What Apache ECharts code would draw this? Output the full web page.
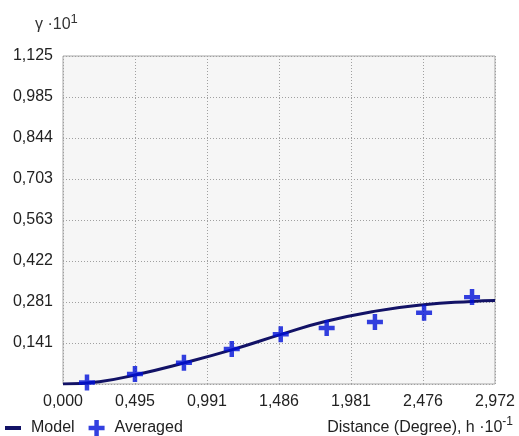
<!DOCTYPE html>
<html><head><meta charset="utf-8">
<script src="https://cdn.jsdelivr.net/npm/echarts@6/dist/echarts.min.js"></script>
<style>html,body{margin:0;padding:0;background:#fff}#c{width:519px;height:436px}</style>
</head><body><div id="c"></div>
<script>
const xTickLabels = ['0,000','0,495','0,991','1,486','1,981','2,476','2,972'];
const yTickLabels = ['','0,141','0,281','0,422','0,563','0,703','0,844','0,985','1,125'];
const averagedX = [0.165, 0.495, 0.832, 1.161, 1.498, 1.814, 2.146, 2.484, 2.814];
const averagedY = [0.005, 0.034, 0.073, 0.120, 0.171, 0.192, 0.213, 0.244, 0.298];
const modelX = [0, 0.25, 0.495, 0.83, 1.16, 1.5, 1.81, 2.15, 2.48, 2.81, 2.972];
const modelY = [0, 0.008, 0.031, 0.072, 0.117, 0.170, 0.215, 0.250, 0.272, 0.283, 0.286];
const xMax = 2.972, yMax = 1.125;
const xStep = xMax / 6, yStep = yMax / 8;

const FONT = '"Liberation Sans", Arial, sans-serif';
const plusPath = 'path://M3.6,0H6.4V3.6H10V6.4H6.4V10H3.6V6.4H0V3.6H3.6Z';
const chart = echarts.init(document.getElementById('c'), null, {renderer: 'canvas'});
const rt = (size, color) => ({fontSize: size, color: color, fontFamily: FONT, fontWeight: 'normal', lineHeight: 20});
chart.setOption({
  animation: false,
  backgroundColor: '#ffffff',
  textStyle: {fontFamily: FONT},
  grid: {left: 63, right: 24, top: 56, bottom: 52, show: true,
         backgroundColor: '#f6f6f6', borderColor: '#a9a9a9', borderWidth: 1},
  title: [
    {text: '{a|\u03b3 \u00b710}{s|1}', left: 35, top: 13, padding: 0,
     textStyle: {fontWeight: 'normal', rich: {a: Object.assign(rt(16, '#333'), {verticalAlign: 'bottom'}),
                        s: Object.assign(rt(13, '#333'), {verticalAlign: 'top'})}}},
    {text: '{a|Distance (Degree), h \u00b710}{s|-1}', right: 6, top: 416, padding: 0,
     textStyle: {fontWeight: 'normal', rich: {a: Object.assign(rt(16, '#222'), {verticalAlign: 'bottom'}),
                        s: Object.assign(rt(12, '#222'), {verticalAlign: 'top'})}}}
  ],
  legend: {
    left: 3, top: 418, itemWidth: 16, itemHeight: 16, itemGap: 14, padding: 2,
    textStyle: {fontSize: 16, color: '#222', fontFamily: FONT, padding: [0, 0, 0, 5]},
    data: [
      {name: 'Model', icon: 'path://M0,0H14V3.5H0Z', itemStyle: {color: '#121266'}},
      {name: 'Averaged', icon: plusPath, itemStyle: {color: '#0010d8'}}
    ]
  },
  xAxis: {
    type: 'value', min: 0, max: xMax, interval: xStep,
    axisLine: {show: false}, axisTick: {show: false},
    axisLabel: {margin: 10, fontSize: 16, color: '#222', fontFamily: FONT,
      showMaxLabel: true,
      formatter: v => xTickLabels[Math.round(v / xStep)]},
    splitLine: {show: true, lineStyle: {type: [1, 2], color: '#a0a0a0', width: 1}}
  },
  yAxis: {
    type: 'value', min: 0, max: yMax, interval: yStep,
    axisLine: {show: false}, axisTick: {show: false},
    axisLabel: {margin: 10, fontSize: 16, color: '#222', fontFamily: FONT,
      formatter: v => yTickLabels[Math.round(v / yStep)]},
    splitLine: {show: true, lineStyle: {type: [1, 2], color: '#a0a0a0', width: 1}}
  },
  series: [
    {name: 'Model', type: 'line', smooth: true, showSymbol: false, z: 2,
     lineStyle: {width: 3, color: '#121266'}, itemStyle: {color: '#121266'},
     data: modelX.map((x, i) => [x, modelY[i]])},
    {name: 'Averaged', type: 'scatter', symbol: plusPath, symbolSize: 16, z: 3,
     itemStyle: {color: '#0010d8'},
     data: averagedX.map((x, i) => [x, averagedY[i]])}
  ]
});
</script>
</body></html>
